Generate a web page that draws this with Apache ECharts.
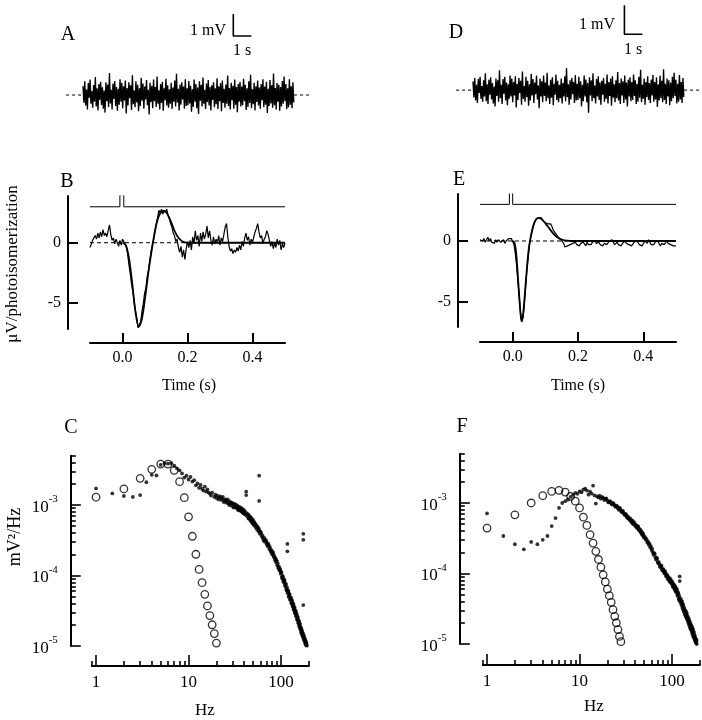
<!DOCTYPE html>
<html><head><meta charset="utf-8">
<script src="https://cdn.jsdelivr.net/npm/echarts@6/dist/echarts.min.js"></script>
<style>html,body{margin:0;padding:0;background:#fff}#c{width:702px;height:720px}</style>
</head><body><div id="c"></div>
<script>
const FONT = '"Liberation Serif", "Times New Roman", serif';

// ---------- Panel A / D : continuous voltage noise (counts of 0.01 mV) ----------
const NOISE_UNIT = 0.01;   // mV per count
const NOISE_DT = 0.049;    // s per sample
const A_NOISE = [40,-35,62,-48,25,-66,55,-12,70,-40,18,-58,45,-30,82,-52,30,-70,50,-22,
60,-45,35,-62,20,-80,58,-28,48,-55,100,-38,24,-66,52,-18,64,-50,36,-72,
28,-44,72,-30,55,-60,40,-25,66,-84,32,-48,58,-15,44,-68,90,-42,20,-56,
62,-34,46,-74,30,-50,78,-26,52,-62,38,-20,68,-46,24,-88,56,-32,42,-60,
70,-28,36,-54,84,-40,22,-66,50,-36,60,-72,30,-24,74,-48,44,-58,26,-40,
56,-64,34,-30,66,-52,96,-34,28,-70,48,-44,58,-20,38,-62,72,-50,30,-46,
64,-38,42,-76,26,-54,70,-30,50,-60,34,-86,62,-26,46,-52,80,-40,24,-64,
52,-32,68,-48,36,-70,44,-22,58,-56,30,-42,76,-64,40,-28,54,-74,66,-36,
28,-58,48,-40,88,-50,32,-66,56,-24,42,-62,70,-44,36,-78,50,-30,60,-52,
38,-46,74,-28,46,-68,30,-54,62,-36,92,-60,26,-42,56,-70,40,-32,66,-48,
34,-62,50,-24,72,-56,38,-44,60,-82,28,-50,68,-38,44,-58,98,-46,32,-66,
54,-30,46,-72,36,-52,64,-40,84,-28,50,-64,30,-56,72,-44,40,-60,58,-34];
const D_NOISE = [30,-25,42,-36,18,-44,38,-10,46,-30,14,-40,34,-22,58,-38,20,-48,36,-16,
44,-32,24,-46,12,-56,40,-20,34,-40,68,-28,18,-48,38,-12,46,-36,26,-52,
20,-30,50,-22,40,-42,28,-18,48,-60,22,-34,42,-10,32,-50,64,-30,14,-40,
46,-24,32,-54,20,-36,56,-18,38,-44,26,-14,50,-32,16,-62,40,-22,30,-42,
50,-20,26,-38,60,-28,16,-48,36,-26,44,-52,22,-16,54,-34,32,-42,18,-28,
40,-46,24,-22,48,-38,76,-24,20,-50,34,-32,42,-14,28,-44,52,-36,22,-34,
46,-28,30,-56,18,-38,50,-22,36,-42,24,-78,44,-18,34,-38,58,-28,16,-46,
38,-22,48,-34,26,-50,32,-16,42,-40,22,-30,54,-46,28,-20,40,-54,48,-26,
20,-42,34,-28,62,-36,24,-48,40,-18,30,-44,50,-32,26,-56,36,-22,44,-38,
28,-34,54,-20,34,-48,22,-40,46,-26,70,-42,18,-30,40,-50,28,-24,48,-34,
24,-44,36,-18,52,-40,28,-32,44,-58,20,-36,50,-28,32,-42,72,-34,22,-48,
40,-22,34,-52,26,-38,46,-28,60,-20,36,-46,22,-40,52,-32,28,-44,42,-24];
const A_BASE = [-0.94, 12.6];   // dashed baseline extent (s)
const D_BASE = [-0.94, 12.75];
const A_SCALE = {t: 8.35, v: 2.68, dt: 1, dv: 1};  // 1 s / 1 mV scale bar
const D_SCALE = {t: 8.41, v: 1.92, dt: 1, dv: 1};

// ---------- Panel B / E : single photon response (µV/photoisomerization) ----------
const RESP_T0 = -0.1, RESP_DT = 0.004;
const B_NOISY = [-0.4,-0.5,0.2,0.1,0.6,0.3,0.8,0.4,0.9,0.5,1.1,0.6,0.8,0.5,1.0,1.5,0.7,0.2,0.4,-0.1,0.3,0.0,-0.3,0.2,-0.2,
0.3,0.2,-0.1,-0.3,-1.0,-1.9,-2.6,-3.5,-4.1,-5.0,
-5.7,-6.3,-7.1,-6.9,-6.6,-5.7,-5.1,-4.2,-3.8,-2.8,
-2.3,-1.5,-0.7,-0.6,0.3,0.9,1.6,2.1,2.7,2.5,
2.8,2.4,2.7,2.5,2.8,2.3,2.0,1.6,1.3,0.8,
0.6,0.1,0.3,-0.4,-0.8,-0.3,-1.2,-0.6,-1.4,-0.5,
0.1,-0.4,0.2,-0.6,0.5,-0.1,1.0,0.2,0.6,-0.3,
0.8,0.1,0.9,0.3,0.7,1.4,0.4,1.0,0.2,-0.2,
0.5,-0.1,0.3,0.0,0.6,-0.2,0.4,0.1,0.7,1.3,
1.6,0.5,-0.3,-0.7,-0.5,-0.9,-0.6,-0.8,-0.4,-0.7,
-0.2,-0.6,0.1,-0.3,0.4,0.8,0.2,0.5,-0.2,0.3,
0.0,0.5,0.9,1.2,1.6,0.9,0.4,0.6,-0.1,0.3,
0.5,1.0,0.7,0.2,-0.3,0.1,-0.5,0.0,-0.4,0.3,
-0.2,0.2,-0.6,-0.1,-0.4,0.0];
const B_FIT = [[0,0],[0.01,-0.2],[0.02,-1.3],[0.03,-3.4],[0.04,-5.8],[0.05,-7.0],[0.06,-6.3],[0.07,-4.5],[0.08,-2.4],[0.09,-0.6],[0.10,1.0],[0.11,2.1],[0.12,2.6],[0.13,2.65],[0.14,2.3],[0.15,1.7],[0.16,1.0],[0.17,0.5],[0.18,0.2],[0.19,0.05],[0.2,0],[0.5,0]];
const B_STIM = [[-0.1,3],[-0.008,3],[-0.008,4],[0.004,4],[0.004,3],[0.5,3]];
const E_NOISY = [0.1,0.2,0.0,0.2,-0.1,0.1,0.3,0.0,0.2,-0.1,0.0,-0.2,0.1,-0.1,0.1,0.2,-0.1,0.0,0.1,-0.2,0.0,0.1,0.2,0.1,0.2,
0.1,-0.3,-1.0,-2.0,-3.3,-4.6,-5.9,-6.6,-6.2,-5.1,
-3.7,-2.3,-1.2,-0.2,0.4,0.9,1.3,1.6,1.8,1.9,
1.9,1.8,1.9,1.7,1.6,1.5,1.5,1.4,1.3,1.4,
1.2,0.9,0.8,0.6,0.5,0.3,0.2,0.1,0.0,-0.2,
-0.5,-0.6,-0.4,-0.5,-0.3,-0.4,-0.2,-0.3,-0.1,-0.3,
-0.2,-0.4,-0.2,-0.3,-0.1,-0.2,-0.4,-0.1,-0.3,-0.2,
-0.3,-0.1,-0.2,0.0,-0.2,-0.3,-0.1,-0.3,-0.2,-0.4,
-0.2,-0.1,-0.3,-0.2,0.0,-0.1,0.1,-0.1,-0.3,-0.2,
-0.1,-0.3,-0.2,-0.4,-0.2,-0.1,0.0,-0.2,-0.1,-0.3,
-0.2,-0.4,-0.3,-0.1,-0.2,0.0,-0.1,-0.3,-0.2,-0.4,
-0.2,-0.1,0.0,-0.2,0.1,-0.1,-0.3,-0.2,-0.3,-0.1,
-0.2,0.0,-0.2,-0.4,-0.2,-0.1,-0.3,-0.2,0.0,-0.2,
-0.1,-0.3,-0.2,-0.4,-0.3,-0.4];
const E_FIT = [[0,0],[0.005,-0.1],[0.01,-0.8],[0.015,-2.5],[0.02,-4.5],[0.025,-6.2],[0.028,-6.6],[0.032,-6.0],[0.036,-4.8],[0.04,-3.4],[0.045,-1.8],[0.05,-0.5],[0.055,0.3],[0.06,0.9],[0.065,1.4],[0.07,1.7],[0.075,1.85],[0.08,1.9],[0.085,1.85],[0.09,1.75],[0.10,1.45],[0.11,1.1],[0.12,0.75],[0.13,0.45],[0.14,0.25],[0.15,0.12],[0.16,0.05],[0.17,0.02],[0.18,0],[0.5,0]];
const E_STIM = [[-0.1,3],[-0.01,3],[-0.01,4],[0.0,4],[0.0,3],[0.5,3]];
const RESP_XTICKS = [0, 0.2, 0.4];
const RESP_YTICKS = [-5, 0];

// ---------- Panel C / F : power spectra [Hz, mV^2/Hz] ----------
const C_CIRCLES = [[1,1.29e-3],[2,1.69e-3],[3,2.39e-3],[4,3.2e-3],[5,3.8e-3],[6,3.8e-3],[7,3.1e-3],[8,2.14e-3],[9,1.27e-3],[10,0.68e-3],[11,0.36e-3],[12,0.20e-3],[13,0.122e-3],[14,0.079e-3],[15,0.054e-3],[16,0.037e-3],[17,0.027e-3],[18,0.020e-3],[19,0.015e-3],[20,0.011e-3]];
const C_DOTS = [[1,1.72e-3],[1.5,1.46e-3],[2,1.34e-3],[2.5,1.30e-3],[3,1.38e-3],[3.5,2.10e-3],[4,2.68e-3],[4.5,2.62e-3],[5,3.70e-3],[5.5,3.90e-3],[6,3.85e-3],[6.5,3.92e-3],[7,3.60e-3],[7.5,3.30e-3],[8,3.10e-3],[8.5,2.80e-3],[9,2.45e-3],[9.5,2.60e-3],[10,2.30e-3],[10.5,2.50e-3],[11,2.15e-3],[11.5,2.25e-3],[12,1.90e-3],[12.5,2.02e-3],[13,1.75e-3],[13.5,1.92e-3],[14,1.70e-3],[14.5,1.60e-3],[15,1.82e-3],[15.5,1.55e-3],[16,1.66e-3],[16.5,1.50e-3],[17,1.45e-3],[17.5,1.36e-3],[18,1.50e-3],[19,1.30e-3],[19.5,1.40e-3],[20,1.26e-3],[21,1.20e-3],[22,1.32e-3],[23,1.24e-3],[24,1.10e-3],[25,1.20e-3],[26,1.14e-3],[27,1.05e-3],[28,1.12e-3],[29,0.98e-3],
[30,1.04e-3],[31,0.95e-3],[32,1.01e-3],[33,0.90e-3],[34,0.95e-3],[35,0.86e-3],[36,0.91e-3],[37,0.81e-3],[38,0.87e-3],[39,0.77e-3],[40,0.82e-3],[41,0.73e-3],[42,1.55e-3],[42,1.38e-3],[43,0.69e-3],[44,0.73e-3],[45,0.64e-3],[46,0.68e-3],[47,0.60e-3],[48,0.63e-3],[49,0.55e-3],[50,0.59e-3],[51,0.52e-3],[52,0.55e-3],[53,0.485e-3],[54,0.515e-3],[55,0.45e-3],[56,0.48e-3],[57,0.42e-3],[58,2.60e-3],[58,1.14e-3],[58,0.44e-3],[59,0.39e-3],[60,0.42e-3],
[62,0.355e-3],[63,0.37e-3],[64,0.33e-3],[66,0.34e-3],[67,0.30e-3],[68,0.32e-3],[70,0.275e-3],[71,0.29e-3],[72,0.258e-3],[74,0.266e-3],[75,0.236e-3],[76,0.25e-3],[78,0.215e-3],[79,0.228e-3],[80,0.20e-3],[82,0.21e-3],[83,0.185e-3],[84,0.195e-3],[86,0.166e-3],[87,0.176e-3],[88,0.155e-3],[90,0.159e-3],[91,0.14e-3],[92,0.149e-3],[94,0.126e-3],[95,0.134e-3],[96,0.118e-3],[98,0.12e-3],[99,0.106e-3],[100,0.112e-3],
[102,0.095e-3],[104,0.099e-3],[106,0.083e-3],[108,0.088e-3],[110,0.074e-3],[112,0.077e-3],[114,0.064e-3],[116,0.068e-3],[117,0.28e-3],[117,0.22e-3],[118,0.056e-3],[120,0.059e-3],[122,0.050e-3],[124,0.053e-3],[126,0.045e-3],[128,0.048e-3],[130,0.040e-3],[132,0.043e-3],[134,0.036e-3],[136,0.039e-3],[138,0.0325e-3],[140,0.035e-3],[142,0.029e-3],[144,0.031e-3],[146,0.026e-3],[148,0.0275e-3],[150,0.0235e-3],[152,0.025e-3],[154,0.021e-3],[156,0.0225e-3],[158,0.0188e-3],[160,0.020e-3],[162,0.017e-3],[164,0.018e-3],[166,0.0153e-3],[168,0.0164e-3],[170,0.0142e-3],[172,0.0151e-3],[174,0.013e-3],[174,0.39e-3],[174,0.32e-3],[174,0.038e-3],[176,0.0139e-3],[178,0.012e-3],[180,0.0128e-3],[182,0.011e-3],[184,0.0118e-3],[186,0.0103e-3],[188,0.011e-3],[190,0.0101e-3],
[20.5,1.36e-3],[21.5,1.28e-3],[22.5,1.18e-3],[23.5,1.30e-3],[24.5,1.16e-3],[25.5,1.08e-3],[26.5,1.20e-3],[27.5,1.0e-3],[28.5,1.06e-3],[29.5,1.08e-3],[30.5,0.92e-3],[31.5,1.04e-3],[32.5,0.93e-3],[33.5,0.99e-3],[34.5,0.84e-3],[35.5,0.94e-3],[36.5,0.84e-3],[37.5,0.90e-3],[38.5,0.78e-3],[39.5,0.85e-3],[40.5,0.74e-3],[41.5,0.79e-3],[43.5,0.75e-3],[44.5,0.65e-3],[45.5,0.70e-3],[46.5,0.61e-3],[47.5,0.66e-3],[48.5,0.57e-3],[49.5,0.62e-3],[50.5,0.53e-3],[51.5,0.57e-3],[53.5,0.52e-3],[55.5,0.49e-3],[57.5,0.46e-3],[61,0.40e-3],[65,0.31e-3],[69,0.31e-3],[73,0.28e-3],[77,0.225e-3],[81,0.215e-3],[85,0.18e-3],[89,0.165e-3],[93,0.132e-3],[97,0.125e-3],[101,0.11e-3],[103,0.09e-3],[105,0.095e-3],[107,0.08e-3],[109,0.085e-3],[111,0.07e-3],[113,0.074e-3],[115,0.061e-3],[119,0.062e-3],[121,0.05e-3],[123,0.055e-3],[125,0.046e-3],[127,0.049e-3],[129,0.041e-3],[131,0.045e-3],[133,0.037e-3],[135,0.040e-3],[137,0.033e-3],[139,0.036e-3],[141,0.030e-3],[143,0.032e-3],[145,0.027e-3],[147,0.029e-3],[149,0.024e-3],[151,0.026e-3],[153,0.022e-3],[155,0.023e-3],[157,0.0195e-3],[159,0.021e-3],[161,0.0178e-3],[163,0.0185e-3],[165,0.0158e-3],[167,0.017e-3],[169,0.0148e-3],[171,0.0155e-3],[173,0.0135e-3],[175,0.0142e-3],[177,0.0125e-3],[179,0.013e-3],[181,0.0115e-3],[183,0.012e-3],[185,0.0106e-3],[187,0.0112e-3],[189,0.0103e-3]];
const F_CIRCLES = [[1,0.44e-3],[2,0.68e-3],[3,1.0e-3],[4,1.27e-3],[5,1.46e-3],[6,1.51e-3],[7,1.43e-3],[8,1.24e-3],[9,1.06e-3],[10,0.85e-3],[11,0.63e-3],[12,0.48e-3],[13,0.355e-3],[14,0.27e-3],[15,0.206e-3],[16,0.158e-3],[17,0.123e-3],[18,0.096e-3],[19,0.076e-3],[20,0.060e-3],[21,0.0485e-3],[22,0.039e-3],[23,0.0307e-3],[24,0.0247e-3],[25,0.020e-3],[26,0.016e-3],[27,0.0128e-3],[28,0.0108e-3]];
const F_DOTS = [[1,0.71e-3],[1.5,0.34e-3],[2,0.26e-3],[2.5,0.22e-3],[3,0.28e-3],[3.5,0.26e-3],[4,0.30e-3],[4.5,0.34e-3],[5,0.47e-3],[5.5,0.61e-3],[6,0.85e-3],[6.5,1.00e-3],[7,1.06e-3],[7.5,1.12e-3],[8,1.22e-3],[8.5,1.30e-3],[9,1.39e-3],[9.5,1.35e-3],[10,1.46e-3],[10.5,1.42e-3],[11,1.55e-3],[11.5,1.60e-3],[12,1.50e-3],[12.5,1.31e-3],[13,1.45e-3],[13.5,1.36e-3],[14,1.76e-3],[14.5,1.28e-3],[15,0.98e-3],[15.5,1.24e-3],[16,1.20e-3],[16.5,1.27e-3],[17,1.15e-3],[17.5,1.22e-3],[18,1.18e-3],[18.5,1.10e-3],[19,1.14e-3],[20,1.08e-3],[21,1.04e-3],[22,0.98e-3],[23,1.00e-3],[24,0.91e-3],[25,0.92e-3],[26,0.84e-3],[27,0.86e-3],[28,0.78e-3],[29,0.76e-3],
[30,0.72e-3],[31,0.67e-3],[32,0.68e-3],[33,0.61e-3],[34,0.62e-3],[35,0.57e-3],[36,0.56e-3],[37,0.55e-3],[38,0.50e-3],[39,0.53e-3],[40,0.47e-3],[41,0.48e-3],[42,0.44e-3],[43,0.46e-3],[44,0.41e-3],[45,0.42e-3],[46,0.38e-3],[47,0.39e-3],[48,0.35e-3],[49,0.355e-3],[50,0.32e-3],[51,0.33e-3],[52,0.30e-3],[53,0.31e-3],[54,0.275e-3],[55,0.285e-3],[56,0.255e-3],[57,0.265e-3],[58,0.235e-3],[59,0.245e-3],[60,0.215e-3],[61,0.225e-3],
[62,0.20e-3],[64,0.195e-3],[66,0.17e-3],[68,0.168e-3],[70,0.145e-3],[72,0.145e-3],[74,0.126e-3],[76,0.13e-3],[78,0.113e-3],[80,0.116e-3],[82,0.104e-3],[84,0.108e-3],[86,0.093e-3],[88,0.096e-3],[90,0.084e-3],[92,0.089e-3],[94,0.078e-3],[96,0.084e-3],[98,0.074e-3],[100,0.077e-3],
[102,0.066e-3],[104,0.071e-3],[106,0.061e-3],[108,0.066e-3],[110,0.056e-3],[112,0.061e-3],[114,0.050e-3],[116,0.054e-3],[118,0.044e-3],[120,0.048e-3],[121,0.091e-3],[121,0.078e-3],[122,0.040e-3],[124,0.044e-3],[126,0.036e-3],[128,0.040e-3],[130,0.032e-3],[132,0.036e-3],[134,0.029e-3],[136,0.031e-3],[138,0.026e-3],[140,0.029e-3],[142,0.024e-3],[144,0.027e-3],[146,0.022e-3],[148,0.024e-3],[150,0.020e-3],[152,0.022e-3],[154,0.018e-3],[156,0.020e-3],[158,0.0165e-3],[160,0.0185e-3],[162,0.0155e-3],[164,0.0172e-3],[166,0.014e-3],[168,0.016e-3],[170,0.0128e-3],[172,0.0145e-3],[174,0.012e-3],[176,0.013e-3],[178,0.011e-3],[180,0.0118e-3],[182,0.0103e-3],[184,0.0112e-3],[186,0.0098e-3],
[19.5,1.16e-3],[20.5,1.02e-3],[21.5,1.06e-3],[22.5,0.95e-3],[23.5,0.97e-3],[24.5,0.88e-3],[25.5,0.90e-3],[26.5,0.80e-3],[27.5,0.83e-3],[28.5,0.74e-3],[29.5,0.77e-3],[30.5,0.69e-3],[31.5,0.70e-3],[32.5,0.63e-3],[33.5,0.64e-3],[34.5,0.59e-3],[35.5,0.60e-3],[36.5,0.53e-3],[37.5,0.56e-3],[38.5,0.51e-3],[39.5,0.50e-3],[40.5,0.49e-3],[41.5,0.45e-3],[42.5,0.47e-3],[43.5,0.42e-3],[44.5,0.43e-3],[45.5,0.39e-3],[46.5,0.40e-3],[47.5,0.36e-3],[48.5,0.37e-3],[49.5,0.33e-3],[63,0.185e-3],[65,0.19e-3],[67,0.158e-3],[69,0.162e-3],[71,0.14e-3],[73,0.135e-3],[75,0.122e-3],[77,0.128e-3],[79,0.11e-3],[81,0.112e-3],[83,0.10e-3],[85,0.102e-3],[87,0.09e-3],[89,0.093e-3],[91,0.082e-3],[93,0.086e-3],[95,0.076e-3],[97,0.080e-3],[99,0.071e-3],[101,0.073e-3],[103,0.064e-3],[105,0.068e-3],[107,0.059e-3],[109,0.063e-3],[111,0.054e-3],[113,0.058e-3],[115,0.048e-3],[117,0.052e-3],[119,0.042e-3],[123,0.042e-3],[125,0.038e-3],[127,0.041e-3],[129,0.034e-3],[131,0.037e-3],[133,0.030e-3],[135,0.033e-3],[137,0.027e-3],[139,0.030e-3],[141,0.025e-3],[143,0.028e-3],[145,0.023e-3],[147,0.025e-3],[149,0.021e-3],[151,0.023e-3],[153,0.019e-3],[155,0.021e-3],[157,0.017e-3],[159,0.019e-3],[161,0.016e-3],[163,0.0178e-3],[165,0.0145e-3],[167,0.0165e-3],[169,0.0132e-3],[171,0.015e-3],[173,0.0124e-3],[175,0.0135e-3],[177,0.0113e-3],[179,0.0122e-3],[181,0.0106e-3],[183,0.0115e-3],[185,0.01e-3]];
const SPEC_X_RANGE = [0.9, 200];         // Hz
const SPEC_Y_RANGE = [1e-5, 5e-3];       // mV^2/Hz
const SPEC_X_MAJOR = [1, 10, 100];
const SPEC_X_MINOR = [0.9,2,3,4,5,6,7,8,9,20,30,40,50,60,70,80,90,200];
const SPEC_Y_MAJOR = [1e-5, 1e-4, 1e-3];
const SPEC_Y_MINOR = [2e-5,3e-5,4e-5,5e-5,6e-5,7e-5,8e-5,9e-5,2e-4,3e-4,4e-4,5e-4,6e-4,7e-4,8e-4,9e-4,2e-3,3e-3,4e-3,5e-3];

// ---------- build ----------
const L = Math.log10;
const noiseData = arr => arr.map((v, i) => [i * NOISE_DT, v * NOISE_UNIT]);
const respData = arr => arr.map((v, i) => [RESP_T0 + i * RESP_DT, v]);
const specData = arr => arr.map(p => [L(p[0]), L(p[1])]);
const scaleBar = s => [[s.t, s.v + s.dv], [s.t, s.v], [s.t + s.dt, s.v]];

const BLACK = '#000';
const lbl = {color: BLACK, fontFamily: FONT, fontSize: 16};
function hidden(gi, min, max) { return {type: 'value', gridIndex: gi, min, max, show: false}; }
function respX(gi, offset) {
  return {type: 'value', gridIndex: gi, min: -0.1, max: 0.5, position: 'bottom', offset,
    axisLine: {show: true, onZero: false, lineStyle: {color: BLACK, width: 2}},
    axisTick: {show: true, inside: true, length: 10, customValues: RESP_XTICKS, lineStyle: {color: BLACK, width: 2}},
    axisLabel: Object.assign({customValues: RESP_XTICKS, margin: 7, formatter: v => v.toFixed(1)}, lbl),
    splitLine: {show: false}};
}
function respY(gi, min, max, offset) {
  return {type: 'value', gridIndex: gi, min, max, position: 'left', offset,
    axisLine: {show: true, onZero: false, lineStyle: {color: BLACK, width: 2}},
    axisTick: {show: true, inside: true, length: 10, customValues: RESP_YTICKS, lineStyle: {color: BLACK, width: 2}},
    axisLabel: Object.assign({customValues: RESP_YTICKS, margin: 7, formatter: v => String(v)}, lbl),
    splitLine: {show: false}};
}
const XR = [L(SPEC_X_RANGE[0]), L(SPEC_X_RANGE[1])];
const YR = [L(SPEC_Y_RANGE[0]), L(SPEC_Y_RANGE[1])];
function specX(gi, offset, minor) {
  return {type: 'value', gridIndex: gi, min: XR[0], max: XR[1], position: 'bottom', offset,
    axisLine: {show: !minor, onZero: false, lineStyle: {color: BLACK, width: 2}},
    axisTick: {show: true, inside: true, length: minor ? 5 : 11, customValues: (minor ? SPEC_X_MINOR : SPEC_X_MAJOR).map(L), lineStyle: {color: BLACK, width: 1.6}},
    axisLabel: minor ? {show: false} : Object.assign({customValues: SPEC_X_MAJOR.map(L), margin: 8, formatter: v => String(Math.round(Math.pow(10, v)))}, lbl, {fontSize: 17}),
    splitLine: {show: false}};
}
function specY(gi, offset, minor) {
  return {type: 'value', gridIndex: gi, min: YR[0], max: YR[1], position: 'left', offset,
    axisLine: {show: !minor, onZero: false, lineStyle: {color: BLACK, width: 2}},
    axisTick: {show: true, inside: true, length: minor ? 5 : 10, customValues: (minor ? SPEC_Y_MINOR : SPEC_Y_MAJOR).map(L), lineStyle: {color: BLACK, width: 1.6}},
    axisLabel: minor ? {show: false} : {customValues: SPEC_Y_MAJOR.map(L), margin: 13,
      formatter: v => '{b|10}{s|' + Math.round(v) + '}',
      rich: {b: {fontFamily: FONT, fontSize: 17, color: BLACK, lineHeight: 22, verticalAlign: 'bottom'},
             s: {fontFamily: FONT, fontSize: 11, color: BLACK, lineHeight: 10, verticalAlign: 'top'}}},
    splitLine: {show: false}};
}

const grids = [
  {left: 56, top: 7, width: 261, height: 121},       // A
  {left: 446, top: 0, width: 256, height: 125},      // D
  {left: 90, top: 196, width: 195, height: 133},     // B
  {left: 480, top: 194, width: 196, height: 133},    // E
  {left: 91.8, top: 455.7, width: 217.1, height: 190.3}, // C
  {left: 482.8, top: 453.7, width: 217.1, height: 190.3} // F
].map(g => Object.assign({outerBoundsMode: 'none', containLabel: false}, g));

const xAxis = [hidden(0, -1.5, 13), hidden(1, -1.5, 12.72), respX(2, 14), respX(3, 15),
  specX(4, 20, false), specX(4, 20, true), specX(5, 21, false), specX(5, 21, true)];
const yAxis = [hidden(0, -1.5, 4.0), hidden(1, -1.2, 3.1), respY(2, -7.2, 3.9, 22), respY(3, -7.05, 3.85, 22),
  specY(4, 21, false), specY(4, 21, true), specY(5, 23, false), specY(5, 23, true)];

function line(xi, data, opt) {
  return Object.assign({type: 'line', xAxisIndex: xi, yAxisIndex: xi, data, showSymbol: false, symbol: 'none',
    silent: true, animation: false, lineStyle: {color: BLACK, width: 1}}, opt || {});
}
const dashed = {lineStyle: {color: BLACK, width: 1, type: [3, 3]}};
const series = [
  line(0, [[A_BASE[0], 0], [A_BASE[1], 0]], dashed),
  line(0, noiseData(A_NOISE), {lineStyle: {color: BLACK, width: 1.35}}),
  line(0, scaleBar(A_SCALE), {lineStyle: {color: BLACK, width: 1.6}}),
  line(1, [[D_BASE[0], 0], [D_BASE[1], 0]], dashed),
  line(1, noiseData(D_NOISE), {lineStyle: {color: BLACK, width: 1.35}}),
  line(1, scaleBar(D_SCALE), {lineStyle: {color: BLACK, width: 1.6}}),
  line(2, [[-0.1, 0], [0.5, 0]], {lineStyle: {color: BLACK, width: 1, type: [4, 3]}}),
  line(2, B_STIM, {lineStyle: {color: BLACK, width: 1}}),
  line(2, respData(B_NOISY), {lineStyle: {color: BLACK, width: 1.2}}),
  line(2, B_FIT, {smooth: 0.3, lineStyle: {color: BLACK, width: 1.8}}),
  line(3, [[-0.1, 0], [0.5, 0]], {lineStyle: {color: BLACK, width: 1, type: [4, 3]}}),
  line(3, E_STIM, {lineStyle: {color: BLACK, width: 1}}),
  line(3, respData(E_NOISY), {lineStyle: {color: BLACK, width: 1.2}}),
  line(3, E_FIT, {smooth: 0.3, lineStyle: {color: BLACK, width: 1.8}}),
  {type: 'scatter', xAxisIndex: 4, yAxisIndex: 4, data: specData(C_CIRCLES), symbol: 'circle', symbolSize: 7.5,
    itemStyle: {color: 'rgba(255,255,255,0)', borderColor: BLACK, borderWidth: 1.3}, silent: true, animation: false},
  {type: 'scatter', xAxisIndex: 4, yAxisIndex: 4, data: specData(C_DOTS), symbol: 'circle', symbolSize: 3.8,
    itemStyle: {color: BLACK}, silent: true, animation: false},
  {type: 'scatter', xAxisIndex: 6, yAxisIndex: 6, data: specData(F_CIRCLES), symbol: 'circle', symbolSize: 7.5,
    itemStyle: {color: 'rgba(255,255,255,0)', borderColor: BLACK, borderWidth: 1.3}, silent: true, animation: false},
  {type: 'scatter', xAxisIndex: 6, yAxisIndex: 6, data: specData(F_DOTS), symbol: 'circle', symbolSize: 3.8,
    itemStyle: {color: BLACK}, silent: true, animation: false}
];

function txt(text, x, y, size, opt) {
  return Object.assign({type: 'text', x, y, silent: true,
    style: Object.assign({text, fill: BLACK, font: size + 'px ' + FONT, textAlign: 'center', textVerticalAlign: 'middle',
      align: 'center', verticalAlign: 'middle'}, (opt && opt.style) || {})}, opt && opt.rotation ? {rotation: opt.rotation} : {});
}
const graphic = [
  txt('A', 68, 35, 20), txt('D', 456, 33, 20), txt('B', 67, 182, 20), txt('E', 459, 180, 20),
  txt('C', 71, 428, 20), txt('F', 462, 427, 20),
  txt('1 mV', 226, 31, 16, {style: {textAlign: 'right', align: 'right'}}),
  txt('1 s', 242, 51, 16),
  txt('1 mV', 615, 25, 16, {style: {textAlign: 'right', align: 'right'}}),
  txt('1 s', 633, 50, 16),
  txt('\u03bcV/photoisomerization', 13, 264, 17, {rotation: Math.PI / 2}),
  txt('Time (s)', 189, 386, 16), txt('Time (s)', 578, 386, 16),
  txt('mV\u00b2/Hz', 15, 537, 18, {rotation: Math.PI / 2}),
  txt('Hz', 205, 711, 17), txt('Hz', 594, 707, 17)
];

const chart = echarts.init(document.getElementById('c'), null, {renderer: 'canvas'});
chart.setOption({backgroundColor: '#fff', animation: false, grid: grids, xAxis, yAxis, series, graphic});
</script></body></html>
